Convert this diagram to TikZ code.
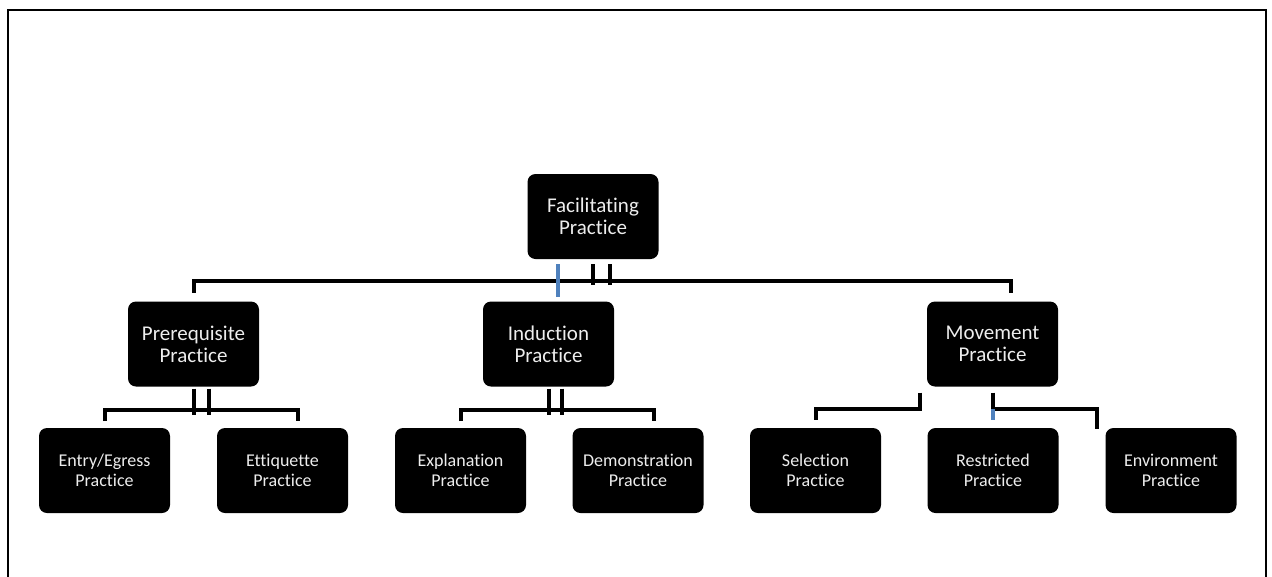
\documentclass[tikz,border=0pt]{standalone}
\usepackage{fontspec}
\setmainfont[Ligatures=CommonOff]{Carlito}
\definecolor{linkblue}{HTML}{4F81BD}
\begin{document}
\begin{tikzpicture}[x=1pt, y=-1pt, line width=4pt, line join=miter,
	box/.style={fill=black, text=white!93!black, rounded corners=8pt, minimum width=131pt, minimum height=85pt, align=center, inner sep=0pt},
	big/.style={box, font=\fontsize{21}{22}\selectfont},
	small/.style={box, font=\fontsize{18}{20.5}\selectfont}]
		\useasboundingbox (0,0) rectangle (1272,576);
		\draw[line width=2pt] (8,590)--(8,10)--(1266,10)--(1266,590);
		%\draw[color=gray!50,dashed] (0,0) grid[step=100] (1272,576);
		\node[big] (fac) at (593,216.5) {Facilitating\\Practice};
		\node[big] (prq) at (193.5,344) {Prerequisite\\Practice};
		\node[big] (ind) at (548.5,344) {Induction\\Practice};
		\node[big] (mov) at (992.5,344) {Movement\\Practice};
		\node[small] (ent) at (104.5,470.5) {Entry/Egress\\Practice};
		\node[small] (eti) at (282.5,470.5) {Ettiquette\\Practice};
		\node[small] (exp) at (460.5,470.5) {Explanation\\Practice};
		\node[small] (dem) at (638,470.5) {Demonstration\\Practice};
		\node[small] (sel) at (815.5,470.5) {Selection\\Practice};
		\node[small] (res) at (993,470.5) {Restricted\\Practice};
		\node[small] (env) at (1171,470.5) {Environment\\Practice};
		% top level
		\draw ([yshift=7pt]prq.north) |- ([xshift=18.5pt,yshift=19pt]mov.north)--([xshift=18.5pt,yshift=7pt]mov.north);
		\draw ([yshift=-3pt]fac.south)--++(0,21);
		\draw ([xshift=17pt,yshift=-3pt]fac.south)--++(0,21);
		\draw[linkblue] ([xshift=-35pt,yshift=-3pt]fac.south)--++(0,33);
		% prerequisite
		\draw (prq.south)--++(0,26);
		\draw ([xshift=15.5pt]prq.south)--++(0,26);
		\draw ([yshift=5pt]ent.north) |- ([xshift=15.5pt,yshift=16pt]eti.north)--([xshift=15.5pt,yshift=5pt]eti.north);
		% induction
		\draw (ind.south)--++(0,26);
		\draw ([xshift=13.5pt]ind.south)--++(0,26);
		\draw ([yshift=5pt]exp.north) |- ([xshift=16pt,yshift=16pt]dem.north)--([xshift=16pt,yshift=5pt]dem.north);
		% movement
		\draw ([xshift=-72.5pt,yshift=-4pt]mov.south) |- ([yshift=17pt]sel.north)--([yshift=6pt]sel.north);
		\draw ([yshift=-4pt]mov.south) |- ([xshift=-74pt,yshift=17pt]env.north)--([xshift=-74pt,yshift=-3pt]env.north);
		\draw[linkblue] ([yshift=17pt]res.north)--([yshift=6pt]res.north);
	\end{tikzpicture}
\end{document}
